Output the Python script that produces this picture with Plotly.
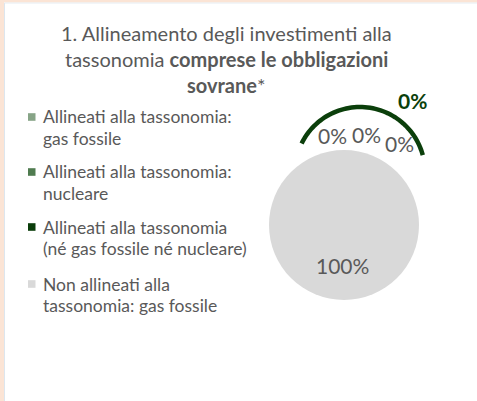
import plotly.graph_objects as go
import numpy as np

W, H = 477, 401

# ---- data ----
categories = [
    "Allineati alla tassonomia: gas fossile",
    "Allineati alla tassonomia: nucleare",
    "Allineati alla tassonomia (né gas fossile né nucleare)",
    "Non allineati alla tassonomia: gas fossile",
]
legend_lines = [
    ["Allineati alla tassonomia:", "gas fossile"],
    ["Allineati alla tassonomia:", "nucleare"],
    ["Allineati alla tassonomia", "(né gas fossile né nucleare)"],
    ["Non allineati alla", "tassonomia: gas fossile"],
]
values = [0, 0, 0, 100]
total_aligned = [0]  # bold highlighted total of aligned share (%)

# ---- styles ----
colors = ["#87a487", "#4f7b4f", "#0a3d0a", "#d9d9d9"]
text_gray = "#595959"
dark_green = "#0b3f0b"
font = "Lato"

def px(x):
    return x / W

def py(y):
    return 1 - y / H

fig = go.Figure()

# pie
cx, cy, r = 344, 225, 75
fig.add_trace(go.Pie(
    labels=categories,
    values=values,
    marker=dict(colors=colors, line=dict(width=0)),
    textinfo="none",
    hoverinfo="label+percent",
    sort=False,
    direction="clockwise",
    showlegend=False,
    domain=dict(x=[px(cx - r), px(cx + r)], y=[py(cy + r), py(cy - r)]),
))

annotations = []
shapes = []

# percent labels
tot = sum(values)
pct = [f"{v / tot * 100:.0f}%" for v in values]
label_pos = [(332, 135), (366, 134), (399, 143), (342, 265)]
for (x, y), t in zip(label_pos, pct):
    annotations.append(dict(x=px(x), y=py(y), xref="paper", yref="paper",
                            text=t, showarrow=False, xanchor="center", yanchor="middle",
                            font=dict(family=font, size=21, color=text_gray)))
annotations.append(dict(x=px(412), y=py(101), xref="paper", yref="paper",
                        text=f"<b>{total_aligned[0]}%</b>", showarrow=False,
                        xanchor="center", yanchor="middle",
                        font=dict(family=font, size=21, color=dark_green)))

# arc outline of the (zero-size) aligned slices
acx, acy, ar = 360, 172, 65
th = np.radians(np.linspace(154, 15, 60))
pts = [(px(acx + ar * np.cos(t)), py(acy - ar * np.sin(t))) for t in th]
path = "M " + " L ".join(f"{x:.5f},{y:.5f}" for x, y in pts)
shapes.append(dict(type="path", path=path, xref="paper", yref="paper",
                   line=dict(color=dark_green, width=4.5)))

# title
title_lines = ["1. Allineamento degli investimenti alla",
               "tassonomia <b>comprese le obbligazioni</b>",
               "<b>sovrane</b>*"]
for i, t in enumerate(title_lines):
    annotations.append(dict(x=px(226), y=py(33 + 26 * i), xref="paper", yref="paper",
                            text=t, showarrow=False, xanchor="center", yanchor="middle",
                            font=dict(family=font, size=20, color=text_gray)))

# legend
leg_y = [117, 172, 227, 284]
for i, lines in enumerate(legend_lines):
    y0 = leg_y[i]
    shapes.append(dict(type="rect", xref="paper", yref="paper",
                       x0=px(28), x1=px(35.5), y0=py(y0 + 3.8), y1=py(y0 - 3.8),
                       fillcolor=colors[i], line=dict(width=0)))
    for j, t in enumerate(lines):
        annotations.append(dict(x=px(41), y=py(y0 + 21 * j), xref="paper", yref="paper",
                                text=t, showarrow=False, xanchor="left", yanchor="middle",
                                font=dict(family=font, size=17.5, color=text_gray)))

# page border decoration
shapes += [
    dict(type="rect", xref="paper", yref="paper", x0=0, x1=1, y0=py(2.5), y1=1,
         fillcolor="#fbe4d5", line=dict(width=0), layer="below"),
    dict(type="rect", xref="paper", yref="paper", x0=0, x1=px(4), y0=0, y1=1,
         fillcolor="#fbe4d5", line=dict(width=0), layer="below"),
    dict(type="line", xref="paper", yref="paper", x0=px(4.5), x1=px(4.5), y0=0, y1=py(3),
         line=dict(color="#dde6ee", width=1)),
    dict(type="line", xref="paper", yref="paper", x0=px(4.5), x1=1, y0=py(3), y1=py(3),
         line=dict(color="#e6ecf1", width=1)),
]

fig.update_layout(
    width=W, height=H,
    margin=dict(l=0, r=0, t=0, b=0),
    paper_bgcolor="white", plot_bgcolor="white",
    annotations=annotations, shapes=shapes,
    showlegend=False,
)

fig.write_html("out.html", config={"displayModeBar": False},
               post_script="document.body.style.margin='0';document.body.style.overflow='hidden';")
